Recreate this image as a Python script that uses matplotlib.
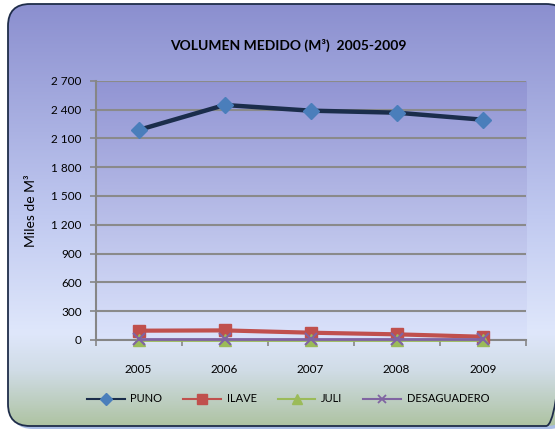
import matplotlib
matplotlib.use("Agg")
import matplotlib.pyplot as plt
import numpy as np
from matplotlib.patches import FancyBboxPatch
from matplotlib.lines import Line2D
from matplotlib.colors import to_rgb
from matplotlib.ticker import FuncFormatter

plt.rcParams['font.family'] = ['Lato', 'DejaVu Sans']

years = ["2005", "2006", "2007", "2008", "2009"]
puno = [2187, 2447, 2388, 2367, 2294]
ilave = [97, 100, 76, 59, 34]
juli = [2, 2, 2, 2, 2]
desaguadero = [8, 8, 8, 8, 8]

W, H = 555, 429


def gradient(stops, n=400):
    # stops: list of (pos, color) -> vertical rgb image
    pos = np.array([s[0] for s in stops])
    cols = np.array([to_rgb(s[1]) for s in stops])
    t = np.linspace(0, 1, n)
    img = np.stack([np.interp(t, pos, cols[:, i]) for i in range(3)], axis=-1)
    return img[:, None, :]


fig = plt.figure(figsize=(W / 100, H / 100), dpi=100)
fig.patch.set_facecolor("white")

# outer rounded box with gradient
bg = fig.add_axes([0, 0, 1, 1])
bg.set_xlim(0, W)
bg.set_ylim(H, 0)
bg.axis("off")
bg.set_zorder(0)

shadow = FancyBboxPatch((11, 8), 560, 421, boxstyle="round,pad=0,rounding_size=22",
                        fc="#a9bde6", ec="none", zorder=0)
bg.add_patch(shadow)
box = FancyBboxPatch((8, 4), 560, 422, boxstyle="round,pad=0,rounding_size=22",
                     fc="none", ec="#1f2d4a", lw=1.3, zorder=3)
bg.add_patch(box)
im = bg.imshow(gradient([(0, "#8b8fcf"), (0.5, "#c0c9f0"), (0.78, "#dfe7fb"),
                         (0.87, "#d0dce6"), (1, "#aec3a2")]),
               extent=[8, 568, 426, 4], aspect="auto", zorder=1)
im.set_clip_path(box)

# plot area
ax = fig.add_axes([95.6 / W, 1 - 340 / H, (525.7 - 95.6) / W, (340 - 80.7) / H])
ax.set_zorder(1)
ax.patch.set_alpha(0)
ax.imshow(gradient([(0, "#9194d3"), (1, "#dbe3fb")]), extent=[0, 1, 0, 1],
          transform=ax.transAxes, aspect="auto", zorder=0)

x = np.arange(len(years))
ax.plot(x, puno, color="#1b2d4b", lw=3.2, marker="D", ms=8, mfc="#4a7ebb", mec="#4a7ebb",
        zorder=5, clip_on=False)
ax.plot(x, ilave, color="#c0504d", lw=3, marker="s", ms=9, mfc="#c0504d", mec="#c0504d",
        zorder=5, clip_on=False)
ax.plot(x, juli, color="#9bbb59", lw=2, marker="^", ms=9, mfc="#9bbb59", mec="#9bbb59",
        zorder=6, clip_on=False)
ax.plot(x, desaguadero, color="#8064a2", lw=2, marker="x", ms=8, mew=1.5,
        zorder=7, clip_on=False)

ax.set_xlim(-0.5, 4.5)
ax.set_ylim(0, 2700)
ax.set_yticks(np.arange(0, 2701, 300))
ax.yaxis.set_major_formatter(FuncFormatter(lambda v, p: f"{int(v):,}".replace(",", " ")))
ax.set_xticks(np.arange(-0.5, 5, 1))
ax.set_xticklabels([])
ax.set_xticks(x, minor=True)
ax.set_xticklabels(years, minor=True)
ax.tick_params(axis="x", which="major", length=4, color="#868686", width=1.2)
ax.tick_params(axis="x", which="minor", length=0, pad=17, labelsize=8.5)
ax.tick_params(axis="y", length=4, color="#868686", width=1.2, pad=6, labelsize=8.5)
ax.grid(axis="y", color="#8a8a8a", lw=1.5, zorder=2)
ax.set_axisbelow(True)
for s in ["top", "right"]:
    ax.spines[s].set_visible(False)
for s in ["left", "bottom"]:
    ax.spines[s].set_color("#868686")
    ax.spines[s].set_linewidth(1.5)

ax.set_ylabel("Miles de M³", fontsize=10, labelpad=10)

fig.text(288 / W, 1 - 45 / H, "VOLUMEN MEDIDO (M³)  2005-2009", ha="center", va="center",
         fontsize=10, fontweight="bold")

handles = [
    Line2D([], [], color="#1b2d4b", lw=1.5, marker="D", ms=6, mfc="#4a7ebb", mec="#4a7ebb"),
    Line2D([], [], color="#c0504d", lw=1.5, marker="s", ms=7, mfc="#c0504d", mec="#c0504d"),
    Line2D([], [], color="#9bbb59", lw=1.5, marker="^", ms=7, mfc="#9bbb59", mec="#9bbb59"),
    Line2D([], [], color="#8064a2", lw=1.5, marker="x", ms=6, mew=1.3),
]
fig.legend(handles, ["PUNO", "ILAVE", "JULI", "DESAGUADERO"], loc="center",
           bbox_to_anchor=(288 / W, 1 - 399 / H), ncol=4, frameon=False,
           fontsize=8, handlelength=3.4, columnspacing=1.9, handletextpad=0.5)

fig.savefig("out.png", dpi=100)
